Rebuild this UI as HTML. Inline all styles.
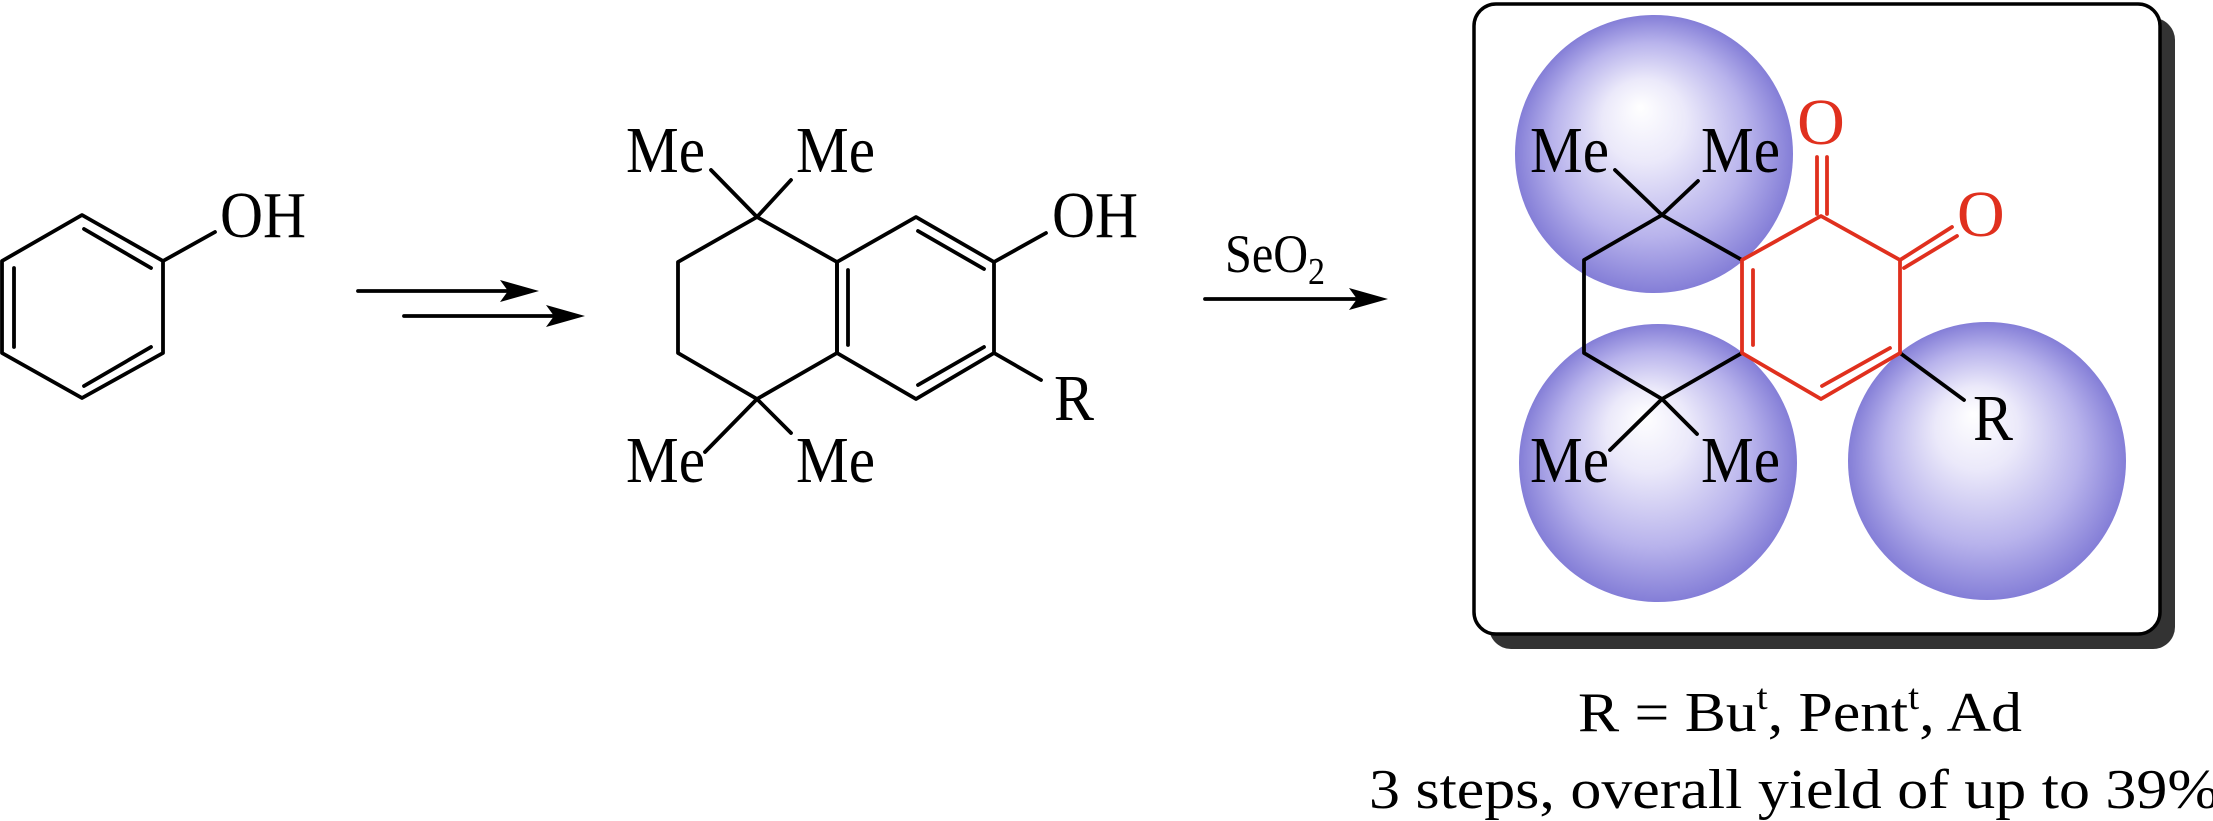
<!DOCTYPE html>
<html><head><meta charset="utf-8"><style>html,body{margin:0;padding:0;background:#fff}svg{display:block}</style></head>
<body>
<svg width="2213" height="821" viewBox="0 0 2213 821" xmlns="http://www.w3.org/2000/svg" font-family="Liberation Serif, serif">
<defs>
<radialGradient id="g" cx="0.5" cy="0.5" r="0.5" fx="0.45" fy="0.33">
<stop offset="0" stop-color="#ffffff"/>
<stop offset="0.3" stop-color="#ebe9fa"/>
<stop offset="0.7" stop-color="#b8b3ec"/>
<stop offset="1" stop-color="#847ed7"/>
</radialGradient>
</defs>
<g stroke="#000" stroke-width="3.8" fill="none" stroke-linecap="round" stroke-linejoin="round">
<polygon points="82,215 163,261 163,353 82,398 2,353 2,261"/>
<line x1="84" y1="229" x2="151" y2="268"/>
<line x1="14" y1="268" x2="14" y2="347"/>
<line x1="84" y1="386" x2="151" y2="347"/>
<line x1="163" y1="261" x2="215" y2="232"/>
<line x1="358" y1="291" x2="510" y2="291"/>
<line x1="404" y1="316" x2="556" y2="316"/>
<line x1="1205" y1="299" x2="1360" y2="299"/>
<polyline points="711,170 757,217 791,180"/>
<polyline points="757,217 678,262 678,353 757,399 837,353 837,262 757,217"/>
<polyline points="705,452 757,399 791,433"/>
<polygon points="837,262 916,217 994,262 994,353 916,399 837,353"/>
<line x1="848" y1="270" x2="848" y2="345"/>
<line x1="918" y1="231" x2="984" y2="269"/>
<line x1="984" y1="347" x2="918" y2="385"/>
<line x1="994" y1="262" x2="1046" y2="233"/>
<line x1="994" y1="353" x2="1041" y2="380"/>
</g>
<g fill="#000" stroke="none">
<polygon points="539,291 500,280 508,291 500,302"/>
<polygon points="585,316 546,305 554,316 546,327"/>
<polygon points="1388,299 1349,288 1357,299 1349,310"/>
</g>
<g font-size="66" fill="#000">
<text x="220" y="237" textLength="86" lengthAdjust="spacingAndGlyphs">OH</text>
<text x="626" y="172" textLength="79" lengthAdjust="spacingAndGlyphs">Me</text>
<text x="796" y="172" textLength="79" lengthAdjust="spacingAndGlyphs">Me</text>
<text x="626" y="482" textLength="79" lengthAdjust="spacingAndGlyphs">Me</text>
<text x="796" y="482" textLength="79" lengthAdjust="spacingAndGlyphs">Me</text>
<text x="1052" y="237" textLength="86" lengthAdjust="spacingAndGlyphs">OH</text>
<text x="1054" y="420" textLength="40" lengthAdjust="spacingAndGlyphs">R</text>
<text x="1225" y="272" font-size="54" textLength="100" lengthAdjust="spacingAndGlyphs">SeO<tspan font-size="38" dy="12">2</tspan></text>
</g>
<rect x="1489" y="18" width="686" height="631" rx="22" fill="#333"/>
<rect x="1474" y="4" width="686" height="630" rx="22" fill="#fff" stroke="#000" stroke-width="3.5"/>
<circle cx="1654" cy="154" r="139" fill="url(#g)"/>
<circle cx="1658" cy="463" r="139" fill="url(#g)"/>
<circle cx="1987" cy="461" r="139" fill="url(#g)"/>
<g stroke="#000" stroke-width="3.8" fill="none" stroke-linecap="round" stroke-linejoin="round">
<polyline points="1615,170 1662,215 1698,181"/>
<polyline points="1742,260 1662,215 1584,260 1584,353 1662,399 1742,353"/>
<polyline points="1610,450 1662,399 1697,434"/>
<line x1="1900" y1="353" x2="1964" y2="400"/>
</g>
<g stroke="#e0301e" stroke-width="3.8" fill="none" stroke-linecap="round" stroke-linejoin="round">
<polygon points="1742,260 1821,216 1900,260 1900,353 1821,399 1742,353"/>
<line x1="1753" y1="270" x2="1753" y2="345"/>
<line x1="1890" y1="348" x2="1822" y2="386"/>
<line x1="1817" y1="157" x2="1817" y2="214"/>
<line x1="1827" y1="157" x2="1827" y2="214"/>
<line x1="1900" y1="260" x2="1952" y2="227"/>
<line x1="1904" y1="268" x2="1957" y2="236"/>
</g>
<g font-size="66">
<text x="1821" y="144" fill="#e0301e" text-anchor="middle">O</text>
<text x="1957" y="236" fill="#e0301e">O</text>
<text x="1530" y="172" textLength="79" lengthAdjust="spacingAndGlyphs">Me</text>
<text x="1701" y="172" textLength="79" lengthAdjust="spacingAndGlyphs">Me</text>
<text x="1530" y="482" textLength="79" lengthAdjust="spacingAndGlyphs">Me</text>
<text x="1701" y="482" textLength="79" lengthAdjust="spacingAndGlyphs">Me</text>
<text x="1973" y="440" textLength="40" lengthAdjust="spacingAndGlyphs">R</text>
</g>
<g font-size="56">
<text x="1578" y="731" textLength="444" lengthAdjust="spacingAndGlyphs">R = Bu<tspan font-size="36" dy="-22">t</tspan><tspan dy="22">, Pent</tspan><tspan font-size="36" dy="-22">t</tspan><tspan dy="22">, Ad</tspan></text>
<text x="1369" y="808" textLength="850" lengthAdjust="spacingAndGlyphs">3 steps, overall yield of up to 39%</text>
</g>
</svg>
</body></html>
